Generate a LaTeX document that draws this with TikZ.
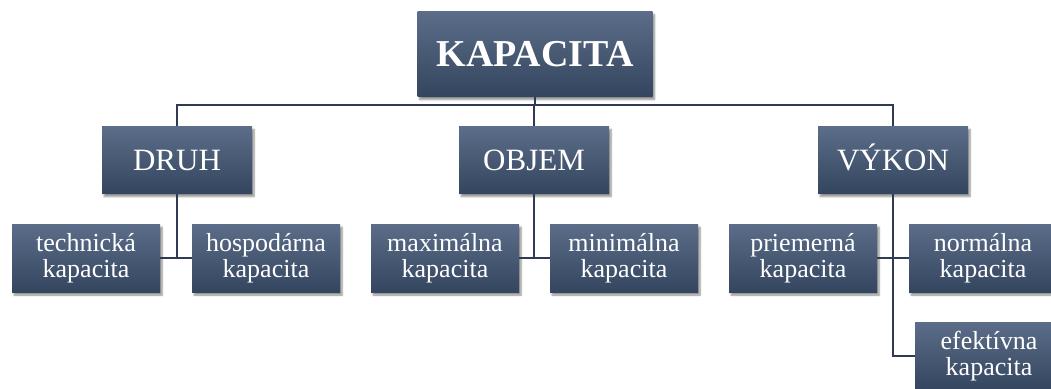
\documentclass[tikz,border=0pt]{standalone}
\usepackage{fontspec}
\setmainfont{Liberation Serif}
\usepackage{xcolor}
\usepackage{tikz}
\usetikzlibrary{shadows.blur}
\definecolor{box-top}{HTML}{5C6D89}
\definecolor{box-bottom}{HTML}{34455F}
\definecolor{line-color}{HTML}{2E3B52}
\tikzset{
    box/.style = {
        rectangle, inner sep=0pt, text=white, align=center,
        top color=box-top, bottom color=box-bottom,
        blur shadow={shadow xshift=2pt, shadow yshift=-3pt,
                     shadow blur steps=6, shadow opacity=45},
        minimum width=148pt, minimum height=68pt,
        font=\fontsize{26}{26}\selectfont
    },
    headbox/.style = {box, minimum width=150pt, minimum height=67pt,
        text height=20.5pt, text depth=0pt,
        font=\fontsize{31}{31}\selectfont},
    rootbox/.style = {box, minimum width=235pt, minimum height=85pt,
        text height=25pt, text depth=0pt,
        font=\fontsize{38}{38}\selectfont\bfseries},
    link/.style = {draw=line-color, line width=1.8pt},
}

\begin{document}
\begin{tikzpicture}[x=1pt,y=-1pt]
\useasboundingbox (0,0) rectangle (1051,388);
\clip (0,0) rectangle (1051,388);

% root
\node[rootbox] (kapacita) at (535,54) {KAPACITA};
\coordinate (bus) at (535,105);

% second level
\node[headbox] (druh)  at (177,160) {DRUH};
\node[headbox] (objem) at (534,160) {OBJEM};
\node[headbox] (vykon) at (893,160) {VÝKON};

% third level
\node[box] (technicka)  at (86,258)  {technická\\kapacita};
\node[box] (hospodarna) at (266,258) {hospodárna\\kapacita};
\node[box] (maximalna)  at (445,258) {maximálna\\kapacita};
\node[box] (minimalna)  at (624,258) {minimálna\\kapacita};
\node[box] (priemerna)  at (803,258) {priemerná\\kapacita};
\node[box] (normalna)   at (983,258) {normálna\\kapacita};
\node[box] (efektivna)  at (989,356) {efektívna\\kapacita};

% connectors
\draw[link] (kapacita.south) -- (kapacita.south |- bus);
\draw[link] (druh.north) -- (druh.north |- bus) -| (vykon.north);
\draw[link] (objem.north) -- (objem.north |- bus);

\draw[link] (druh.south) -- (druh.south |- technicka.east);
\draw[link] (technicka.east) -- (hospodarna.west);
\draw[link] (objem.south) -- (objem.south |- maximalna.east);
\draw[link] (maximalna.east) -- (minimalna.west);
\draw[link] (vykon.south) |- (efektivna.west);
\draw[link] (priemerna.east) -- (normalna.west);

\end{tikzpicture}
\end{document}
